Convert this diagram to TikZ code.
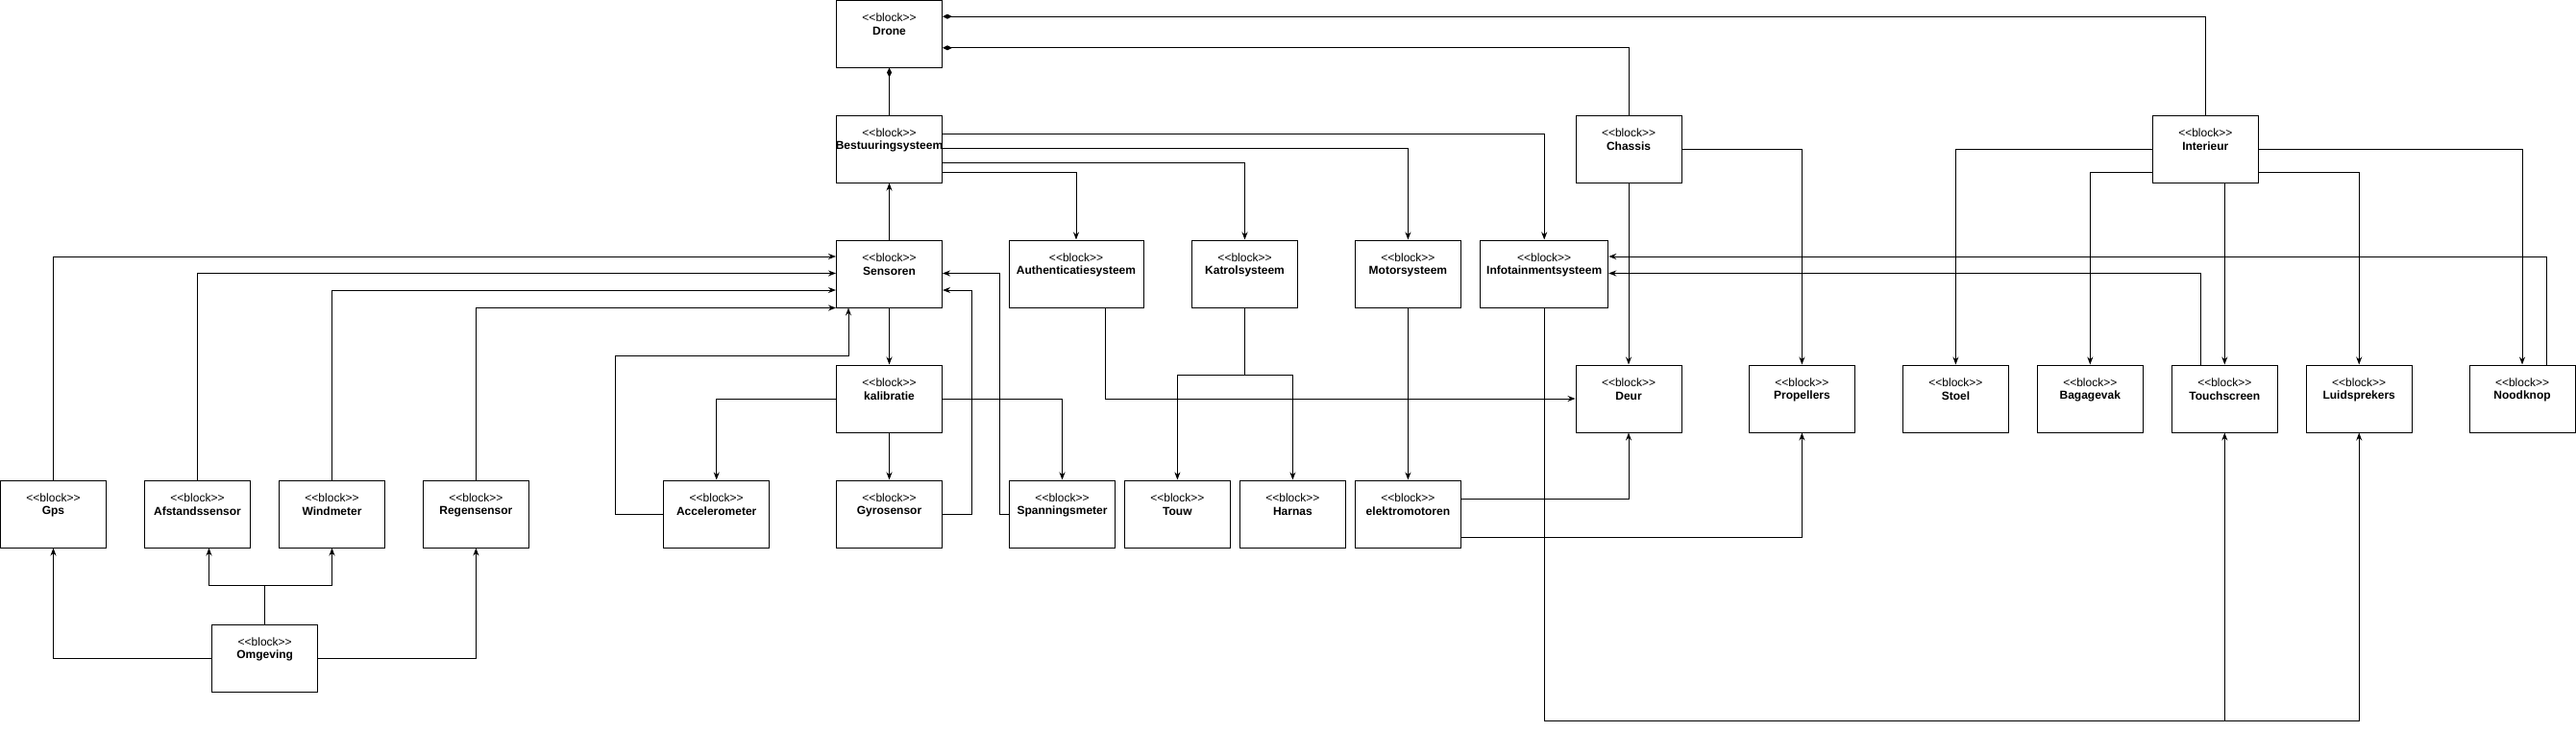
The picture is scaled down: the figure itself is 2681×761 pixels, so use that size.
\documentclass[tikz,border=0pt]{standalone}
\usepackage{fontspec}
\setmainfont{Liberation Sans}
\usetikzlibrary{arrows.meta,calc}
\begin{document}
\begin{tikzpicture}[x=1pt,y=-1pt,
  every node/.style={font=\fontsize{12}{14}\selectfont},
  stereo/.style={anchor=center,yshift=-19pt,inner sep=0pt,font=\fontsize{12}{14}\selectfont},
  nm/.style={anchor=center,yshift=-33pt,inner sep=0pt,font=\fontsize{12}{14}\selectfont\bfseries},
  blk/.style={draw,line width=1pt,minimum width=110pt,minimum height=70pt,inner sep=0pt,fill=white,
    label={[stereo]north:{<{}<block>{}>}},label={[nm]north:{#1}}},
  arr/.style={-{Stealth[length=8pt,width=6pt]},line width=1pt},
  comp/.style={{Diamond[length=10pt,width=5pt]}-,line width=1pt},
  ln/.style={line width=1pt}]
\fill[white] (0,0) rectangle (2681,761);
\useasboundingbox (0,0) rectangle (2681,761);
% top rows
\node[blk=Drone] (drone) at (925.5,35) {};
\node[blk=Bestuuringsysteem] (bes) at (925.5,155) {};
\node[blk=Chassis] (cha) at (1695,155) {};
\node[blk=Interieur] (int) at (2295.3,155) {};
% row 3
\node[blk=Sensoren] (sen) at (925.5,285) {};
\node[blk=Authenticatiesysteem,minimum width=140pt] (aut) at (1120,285) {};
\node[blk=Katrolsysteem] (kat) at (1295.5,285) {};
\node[blk=Motorsysteem] (mot) at (1465.4,285) {};
\node[blk=Infotainmentsysteem,minimum width=133pt] (inf) at (1607.2,285) {};
% row 4
\node[blk=kalibratie] (kal) at (925.5,415) {};
\node[blk=Deur] (deu) at (1695,415) {};
\node[blk=Propellers] (pro) at (1875.4,415) {};
\node[blk=Stoel] (sto) at (2035.4,415) {};
\node[blk=Bagagevak] (bag) at (2175.3,415) {};
\node[blk=Touchscreen] (tsc) at (2315.3,415) {};
\node[blk=Luidsprekers] (lui) at (2455.2,415) {};
\node[blk=Noodknop] (noo) at (2625,415) {};
% row 5
\node[blk=Gps] (gps) at (55.5,535) {};
\node[blk=Afstandssensor] (afs) at (205.5,535) {};
\node[blk=Windmeter] (win) at (345.5,535) {};
\node[blk=Regensensor] (reg) at (495.4,535) {};
\node[blk=Accelerometer] (acc) at (745.7,535) {};
\node[blk=Gyrosensor] (gyr) at (925.5,535) {};
\node[blk=Spanningsmeter] (spa) at (1105.5,535) {};
\node[blk=Touw] (tou) at (1225.4,535) {};
\node[blk=Harnas] (har) at (1345.4,535) {};
\node[blk=elektromotoren] (ele) at (1465.4,535) {};
% row 6
\node[blk=Omgeving] (omg) at (275.7,685) {};
% composition
\draw[comp] ($(drone.north east)+(0,17.7)$) -| (int.north);
\draw[comp] ($(drone.north east)+(0,50.3)$) -| (cha.north);
\draw[comp] (drone.south) -- (bes.north);
% Bestuuringsysteem
\draw[arr] (sen.north) -- (bes.south);
\draw[arr] ($(bes.north east)+(0,20.3)$) -| (inf.north);
\draw[arr] ($(bes.north east)+(0,35.3)$) -| (mot.north);
\draw[arr] ($(bes.north east)+(0,50.3)$) -| (kat.north);
\draw[arr] ($(bes.north east)+(0,60.3)$) -| (aut.north);
% sensors into Sensoren
\draw[arr] (gps.north) |- ($(sen.north west)+(0,17.5)$);
\draw[arr] (afs.north) |- ($(sen.north west)+(0,35)$);
\draw[arr] (win.north) |- ($(sen.north west)+(0,52.5)$);
\draw[arr] (reg.north) |- (sen.south west);
\draw[arr] (acc.west) -- ++(-50,0) |- ($(sen.south west)+(13,50.3)$) -- ($(sen.south west)+(13,0)$);
\draw[arr] (gyr.east) -- ++(30,0) |- ($(sen.north east)+(0,52.5)$);
\draw[arr] (spa.west) -- ++(-10,0) |- ($(sen.north east)+(0,35)$);
% Sensoren / kalibratie
\draw[arr] (sen.south) -- (kal.north);
\draw[arr] (kal.south) -- (gyr.north);
\draw[arr] (kal.west) -| (acc.north);
\draw[arr] (kal.east) -| (spa.north);
% Authenticatie, Katrol, Motor
\draw[arr] ($(aut.south)+(30,0)$) |- (deu.west);
\draw[arr] (kat.south) -- ++(0,70) -| (tou.north);
\draw[arr] (kat.south) -- ++(0,70) -| (har.north);
\draw[arr] (mot.south) -- (ele.north);
\draw[arr] ($(ele.north east)+(0,20)$) -| (deu.south);
\draw[arr] ($(ele.north east)+(0,60)$) -| (pro.south);
% Chassis
\draw[arr] (cha.south) -- (deu.north);
\draw[arr] (cha.east) -| (pro.north);
% Infotainment
\draw[arr] (inf.south) -- ++(0,430) -| (tsc.south);
\draw[arr] (inf.south) -- ++(0,430) -| (lui.south);
\draw[arr] ($(tsc.north)+(-25,0)$) |- ($(inf.north east)+(0,35)$);
\draw[arr] ($(noo.north)+(25,0)$) |- ($(inf.north east)+(0,17.5)$);
% Interieur
\draw[arr] (int.west) -| (sto.north);
\draw[arr] ($(int.north west)+(0,60)$) -| (bag.north);
\draw[arr] (tsc.north |- int.south) -- (tsc.north);
\draw[arr] ($(int.north east)+(0,60)$) -| (lui.north);
\draw[arr] (int.east) -| (noo.north);
% Omgeving
\draw[arr] (omg.west) -| (gps.south);
\draw[arr] (omg.east) -| (reg.south);
\draw[arr] (omg.north) -- ++(0,-40) -| ($(afs.south)+(12,0)$);
\draw[arr] (omg.north) -- ++(0,-40) -| (win.south);
\end{tikzpicture}
\end{document}
